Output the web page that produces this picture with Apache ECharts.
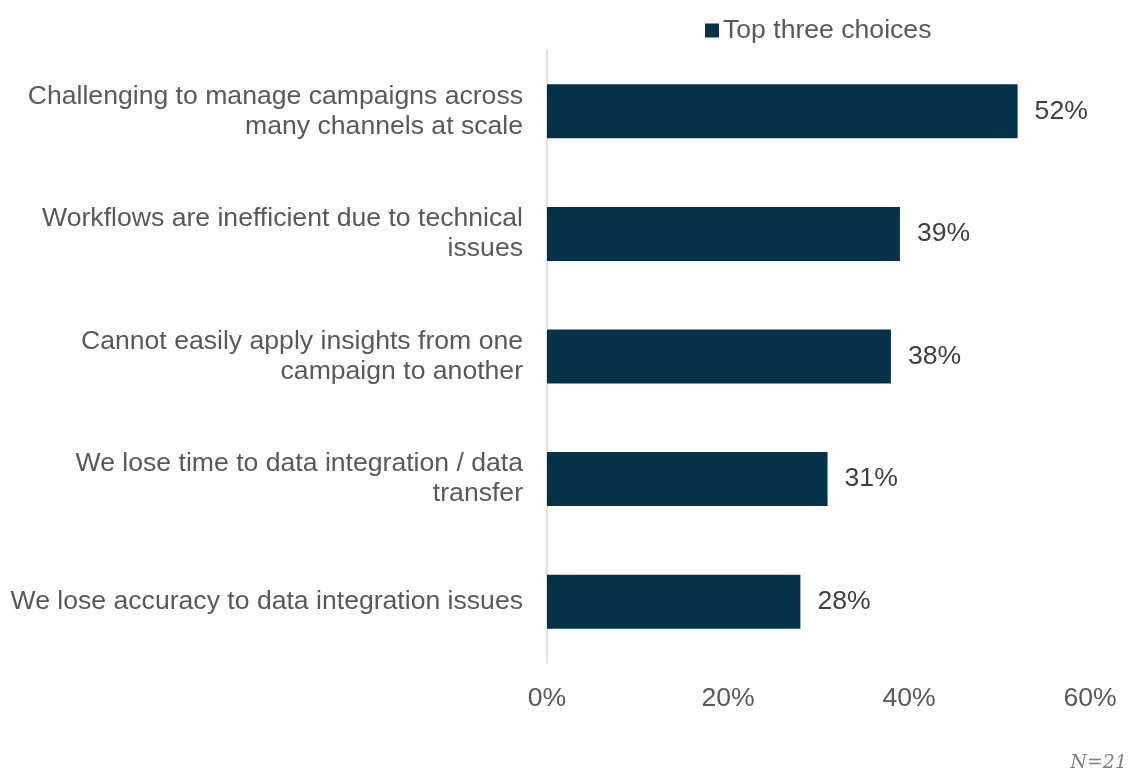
<!DOCTYPE html>
<html>
<head>
<meta charset="utf-8">
<style>
  html, body { margin: 0; padding: 0; background: #ffffff; }
  #chart { width: 1130px; height: 776px; }
</style>
<script src="https://cdn.jsdelivr.net/npm/echarts@6/dist/echarts.min.js"></script>
</head>
<body>
<div id="chart"></div>
<script>
// Challenges named by respondents (share selecting each among their top three)
const categories = [
  'Challenging to manage campaigns across\nmany channels at scale',
  'Workflows are inefficient due to technical\nissues',
  'Cannot easily apply insights from one\ncampaign to another',
  'We lose time to data integration / data\ntransfer',
  'We lose accuracy to data integration issues'
];
const seriesName = 'Top three choices';
const values = [52, 39, 38, 31, 28];
const xTicks = [0, 20, 40, 60];

const chart = echarts.init(document.getElementById('chart'), null, { renderer: 'canvas' });

const FONT = '"Liberation Sans", Arial, sans-serif';
const TEXT = '#595959';
const SIZE = 26.6;

chart.setOption({
  animation: false,
  backgroundColor: '#ffffff',
  textStyle: { fontFamily: FONT },
  legend: {
    data: [seriesName],
    top: 12,
    left: 700,
    icon: 'rect',
    itemWidth: 14,
    itemHeight: 14,
    itemGap: 5,
    textStyle: { fontSize: SIZE, color: TEXT, fontFamily: FONT, padding: [0, 0, 0, -1] }
  },
  grid: { left: 547, right: 40, top: 50, bottom: 113, containLabel: false },
  xAxis: {
    type: 'value',
    min: xTicks[0],
    max: xTicks[xTicks.length - 1],
    interval: 20,
    axisLine: { show: false },
    axisTick: { show: false },
    splitLine: { show: false },
    axisLabel: {
      margin: 22,
      fontSize: SIZE,
      color: TEXT,
      fontFamily: FONT,
      formatter: v => v + '%'
    }
  },
  yAxis: {
    type: 'category',
    data: categories,
    inverse: true,
    axisLine: { show: true, lineStyle: { color: '#d9d9d9', width: 1.5 } },
    axisTick: { show: false },
    axisLabel: {
      margin: 24,
      fontSize: SIZE,
      lineHeight: 30,
      padding: [3, 0, 0, 0],
      color: TEXT,
      fontFamily: FONT,
      align: 'right'
    }
  },
  series: [{
    name: seriesName,
    type: 'bar',
    data: values,
    barWidth: 54,
    itemStyle: { color: '#033249' },
    label: {
      show: true,
      position: 'right',
      distance: 17,
      fontSize: SIZE,
      color: '#404040',
      fontFamily: FONT,
      formatter: p => p.value + '%'
    }
  }],
  graphic: [{
    type: 'text',
    right: 3,
    top: 754,
    style: {
      text: 'N=21',
      font: 'italic 19px "DejaVu Serif", "Liberation Serif", Georgia, serif',
      fill: '#7f7f7f'
    }
  }]
});
</script>
</body>
</html>
